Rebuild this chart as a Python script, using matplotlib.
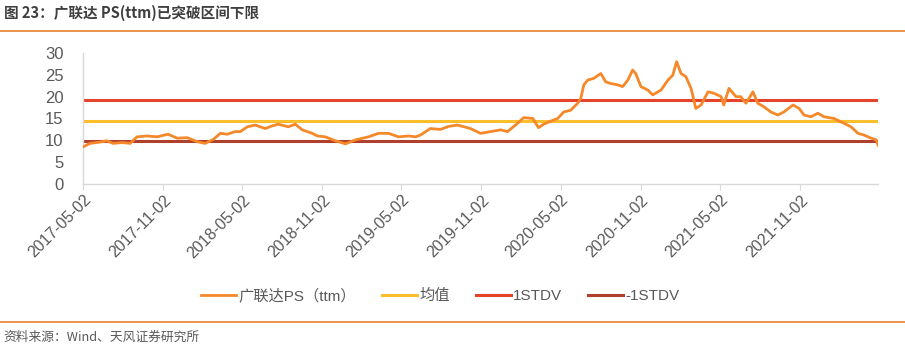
import matplotlib
matplotlib.use('Agg')
import matplotlib.pyplot as plt
import matplotlib.dates as mdates
from matplotlib import font_manager
import pandas as pd

plt.rcParams['font.family'] = ['Liberation Sans', 'Noto Sans CJK SC', 'DejaVu Sans']

# PS(ttm) values
dates = [
    '2017-05-02', '2017-05-18', '2017-06-10', '2017-06-26', '2017-07-10', '2017-07-31',
    '2017-08-18', '2017-09-03', '2017-09-26', '2017-10-19', '2017-11-13', '2017-12-04',
    '2017-12-27', '2018-01-19', '2018-02-06', '2018-02-25', '2018-03-13', '2018-03-29',
    '2018-04-16', '2018-04-28', '2018-05-14', '2018-06-01', '2018-06-24', '2018-07-10',
    '2018-07-24', '2018-08-16', '2018-09-01', '2018-09-17', '2018-10-10', '2018-10-22',
    '2018-11-09', '2018-12-02', '2018-12-25', '2019-01-17', '2019-02-16', '2019-03-11',
    '2019-04-03', '2019-04-26', '2019-05-19', '2019-06-04', '2019-06-15', '2019-07-08',
    '2019-07-31', '2019-08-19', '2019-09-08', '2019-09-27', '2019-10-08', '2019-10-31',
    '2019-11-23', '2019-12-16', '2020-01-01', '2020-01-24', '2020-02-07', '2020-02-28',
    '2020-03-12', '2020-03-24', '2020-04-09', '2020-04-25', '2020-05-09', '2020-05-25',
    '2020-06-10', '2020-06-17', '2020-06-24', '2020-07-03', '2020-07-17', '2020-08-02',
    '2020-08-13', '2020-08-25', '2020-09-10', '2020-09-21', '2020-10-03', '2020-10-14',
    '2020-10-21', '2020-11-02', '2020-11-18', '2020-11-29', '2020-12-18', '2021-01-03',
    '2021-01-14', '2021-01-23', '2021-02-02', '2021-02-13', '2021-02-25', '2021-03-08',
    '2021-03-20', '2021-04-05', '2021-04-18', '2021-05-05', '2021-05-11', '2021-05-23',
    '2021-06-08', '2021-06-19', '2021-07-01', '2021-07-17', '2021-07-28', '2021-08-11',
    '2021-08-27', '2021-09-12', '2021-09-26', '2021-10-17', '2021-10-31', '2021-11-11',
    '2021-11-27', '2021-12-13', '2021-12-27', '2022-01-19', '2022-02-11', '2022-02-27',
    '2022-03-15', '2022-03-29', '2022-04-14', '2022-04-26', '2022-04-30',
]
ps_ttm = [
    8.5, 9.3, 9.6, 9.9, 9.3, 9.5,
    9.3, 10.8, 11.0, 10.8, 11.4, 10.5,
    10.6, 9.7, 9.3, 10.2, 11.6, 11.4,
    12.0, 12.0, 13.1, 13.5, 12.7, 13.3,
    13.7, 13.1, 13.7, 12.4, 11.6, 11.0,
    10.8, 9.9, 9.2, 10.1, 10.8, 11.6,
    11.6, 10.8, 11.0, 10.8, 11.2, 12.7,
    12.5, 13.2, 13.5, 13.0, 12.7, 11.6,
    12.0, 12.4, 12.0, 13.9, 15.2, 15.0,
    12.9, 13.7, 14.4, 15.0, 16.5, 16.9,
    18.5, 19.6, 22.7, 23.8, 24.2, 25.3,
    23.4, 23.0, 22.7, 22.3, 23.8, 26.1,
    25.3, 22.3, 21.5, 20.4, 21.5, 23.8,
    24.9, 28.0, 25.3, 24.6, 21.9, 17.3,
    18.1, 21.1, 20.8, 20.0, 18.1, 21.9,
    20.0, 20.0, 18.5, 21.1, 18.5, 17.7,
    16.5, 15.8, 16.5, 18.1, 17.3, 15.8,
    15.4, 16.2, 15.4, 15.0, 13.9, 13.1,
    11.6, 11.2, 10.5, 10.1, 8.9,
]
mean_val = 14.5
std_up = 19.2
std_down = 9.8

tick_dates = ['2017-05-02', '2017-11-02', '2018-05-02', '2018-11-02', '2019-05-02',
              '2019-11-02', '2020-05-02', '2020-11-02', '2021-05-02', '2021-11-02']
y_ticks = [0, 5, 10, 15, 20, 25, 30]

x = pd.to_datetime(dates)

fig = plt.figure(figsize=(9.05, 3.58), dpi=100)
ax = fig.add_axes([0.0917, 0.486, 0.879, 0.366])

ax.plot(x, ps_ttm, color='#F5892A', lw=2.0, label='广联达PS（ttm）', zorder=3)
ax.axhline(mean_val, color='#FDBE2C', lw=2.2, label='均值', zorder=2)
ax.axhline(std_up, color='#E5432A', lw=2.2, label='1STDV', zorder=2)
ax.axhline(std_down, color='#B0402E', lw=2.2, label='-1STDV', zorder=2)

ax.set_ylim(0, 30)
ax.set_yticks(y_ticks)
ax.set_xlim(pd.Timestamp('2017-05-02'), pd.Timestamp('2022-05-01'))
ax.set_xticks(pd.to_datetime(tick_dates))
ax.xaxis.set_major_formatter(mdates.DateFormatter('%Y-%m-%d'))

for s in ['top', 'right']:
    ax.spines[s].set_visible(False)
for s in ['left', 'bottom']:
    ax.spines[s].set_color('#D9D9D9')
    ax.spines[s].set_linewidth(1.0)
ax.tick_params(axis='y', length=0, labelsize=12, labelcolor='#595959', pad=14)
ax.tick_params(axis='x', length=4, color='#D9D9D9', labelsize=11.5, labelcolor='#595959', pad=2)
plt.setp(ax.get_xticklabels(), rotation=45, ha='right', rotation_mode='anchor')

leg_font = font_manager.FontProperties(family=['Liberation Sans', 'Noto Sans CJK SC'], size=11)
ax.legend(loc='upper center', bbox_to_anchor=(0.449, -0.69), ncol=4, frameon=False,
          prop=leg_font, handlelength=2.3, handletextpad=0.15, columnspacing=1.7,
          labelcolor='#595959')

# title, separators and source
fig.text(0.004, 0.965, '图 23：广联达 PS(ttm)已突破区间下限', fontsize=10.5, fontweight='bold',
         color='#3F3F3F', family=['Noto Sans CJK SC', 'DejaVu Sans'], va='center')
fig.add_artist(plt.Line2D([0, 1], [1 - 31 / 358] * 2, color='#E9812C', lw=1.2))
fig.add_artist(plt.Line2D([0, 1], [1 - 322 / 358] * 2, color='#E9812C', lw=1.2))
fig.text(0.004, 1 - 337 / 358, '资料来源：Wind、天风证券研究所', fontsize=9.2, color='#595959',
         family=['Noto Sans CJK SC', 'DejaVu Sans'], va='center')

fig.savefig('out.png', dpi=100)
